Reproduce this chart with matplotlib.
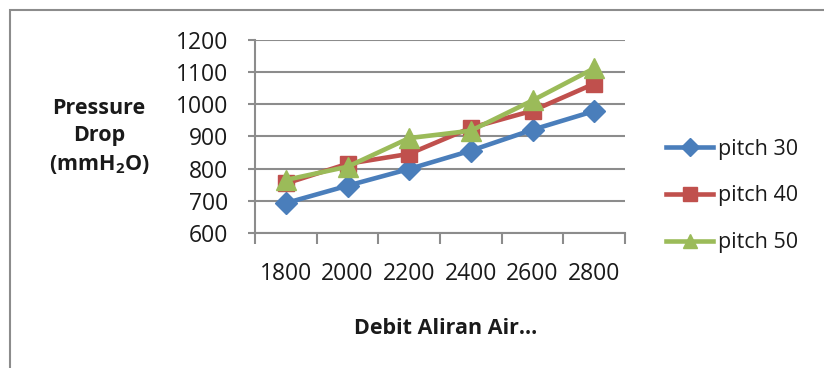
import matplotlib
matplotlib.use("Agg")
import matplotlib.pyplot as plt
from matplotlib.patches import Rectangle

# Data
flow_rates = ["1800", "2000", "2200", "2400", "2600", "2800"]
pitch_30 = [693, 747, 799, 856, 921, 979]
pitch_40 = [754, 815, 846, 927, 980, 1064]
pitch_50 = [765, 806, 895, 918, 1012, 1112]
series_names = ["pitch 30", "pitch 40", "pitch 50"]
y_ticks = [600, 700, 800, 900, 1000, 1100, 1200]

FONT = "Open Sans"
plt.rcParams["font.family"] = [FONT, "DejaVu Sans"]
plt.rcParams["mathtext.fontset"] = "custom"
plt.rcParams["mathtext.rm"] = FONT + ":bold"
plt.rcParams["mathtext.it"] = FONT + ":bold"
plt.rcParams["mathtext.bf"] = FONT + ":bold"

FS_TICK = 16.5
FS = 15.5
TXT = "#1a1a1a"
GRID = "#8c8c8c"

W, H = 824, 368
fig = plt.figure(figsize=(W / 100, H / 100), dpi=100)
fig.patch.set_facecolor("white")

# chart frame
fig.add_artist(Rectangle((10 / W, -0.1), 2, (H - 10) / H + 0.1,
                         transform=fig.transFigure, fill=False,
                         edgecolor=GRID, lw=1.5))

# plot area in pixels
x0, x1, ytop, ybot = 255, 625, 40, 233
ax = fig.add_axes([x0 / W, (H - ybot) / H, (x1 - x0) / W, (ybot - ytop) / H])
ax.set_facecolor("none")

xs = list(range(len(flow_rates)))
colors = ["#4a7ebb", "#c0504d", "#9bbb59"]
markers = ["D", "s", "^"]
msizes = [11.5, 11.5, 14]
for vals, name, c, m, ms in zip([pitch_30, pitch_40, pitch_50], series_names,
                                colors, markers, msizes):
    ax.plot(xs, vals, color=c, lw=3.3, marker=m, markersize=ms,
            markeredgecolor=c, label=name, zorder=3)

ax.set_xlim(-0.5, len(flow_rates) - 0.5)
ax.set_ylim(600, 1200)
ax.set_yticks(y_ticks)
ax.set_yticklabels([str(v) for v in y_ticks])
ax.yaxis.grid(True, color=GRID, lw=1.5)
ax.set_axisbelow(True)

ax.set_xticks([i - 0.5 for i in range(len(flow_rates) + 1)])
ax.set_xticklabels([])
ax.set_xticks(xs, minor=True)
ax.set_xticklabels(flow_rates, minor=True)
ax.tick_params(axis="x", which="major", length=8, width=1.5, color=GRID,
               direction="out")
ax.tick_params(axis="x", which="minor", length=0, pad=21, labelsize=FS_TICK,
               labelcolor=TXT)
ax.tick_params(axis="y", length=5, width=1.5, color=GRID, pad=14,
               labelsize=FS_TICK, labelcolor=TXT)

for s in ["top", "right"]:
    ax.spines[s].set_visible(False)
for s in ["left", "bottom"]:
    ax.spines[s].set_color(GRID)
    ax.spines[s].set_linewidth(1.5)

fig.text(99 / W, 1 - 137 / H, "Pressure\nDrop\n(mmH$_\\mathbf{2}$O)",
         ha="center", va="center", fontsize=FS, fontweight="bold",
         linespacing=1.4, color=TXT)
fig.text(446 / W, 1 - 328 / H, "Debit Aliran Air…", ha="center", va="center",
         fontsize=FS, fontweight="bold", color=TXT)

leg = fig.legend(loc="center left", bbox_to_anchor=(666 / W, 1 - 196 / H),
                 frameon=False, fontsize=FS, handlelength=2.2,
                 handletextpad=0.2, labelspacing=1.2, borderaxespad=0,
                 borderpad=0)
for t in leg.get_texts():
    t.set_color(TXT)
for h in leg.legend_handles:
    h.set_markersize(9.5)

fig.savefig("out.png", dpi=100, facecolor="white")
